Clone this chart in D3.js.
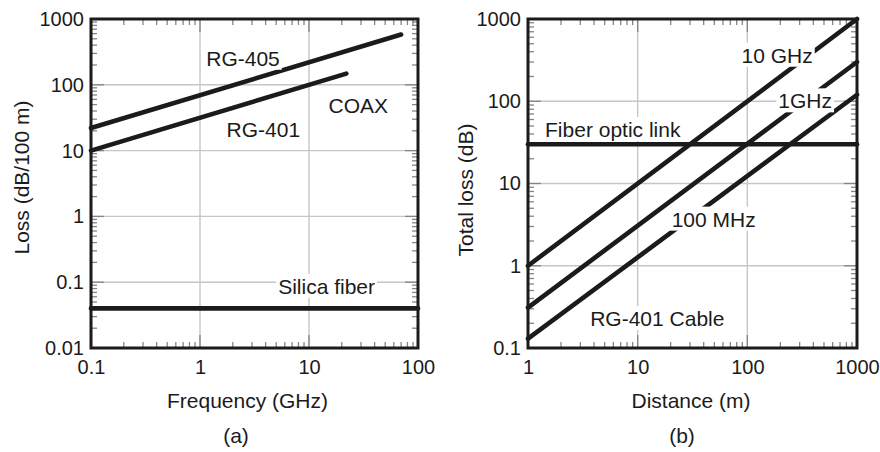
<!DOCTYPE html>
<html><head><meta charset="utf-8">
<script src="https://cdn.jsdelivr.net/npm/d3@7"></script>
<style>
body{margin:0;background:#fff}
svg{display:block;font-family:"Liberation Sans",Arial,Helvetica,sans-serif}
</style></head><body>
<svg id="chart" width="880" height="452"></svg>
<script>
// Panel (a): attenuation per 100 m versus frequency
const freqTicks = [0.1, 1, 10, 100];
const freqTickLabels = ["0.1", "1", "10", "100"];
const lossTicks = [0.01, 0.1, 1, 10, 100, 1000];
const lossTickLabels = ["0.01", "0.1", "1", "10", "100", "1000"];
const rg405Freq = [0.1, 70];
const rg405Loss = [22, 580];
const rg401Freq = [0.1, 22];
const rg401Loss = [10, 148];
const silicaFreq = [0.1, 100];
const silicaLoss = [0.04, 0.04];

// Panel (b): total loss versus link distance
const distTicks = [1, 10, 100, 1000];
const distTickLabels = ["1", "10", "100", "1000"];
const totalTicks = [0.1, 1, 10, 100, 1000];
const totalTickLabels = ["0.1", "1", "10", "100", "1000"];
const distance = [1, 1000];
const loss10GHz = [1, 1000];
const loss1GHz = [0.31, 300];
const loss100MHz = [0.13, 120];
const fiberDist = [1, 1000];
const fiberLoss = [30, 30];

const svg = d3.select("#chart");
const INK = "#1b1b1b";
const TICK_FONT = 20;
const FONT = 21;

function minorValues(domain) {
  const out = [];
  const lo = Math.floor(Math.log10(domain[0])), hi = Math.ceil(Math.log10(domain[1]));
  for (let e = lo; e < hi; e++) {
    for (let k = 2; k <= 9; k++) {
      const v = k * Math.pow(10, e);
      if (v > domain[0] && v < domain[1]) out.push(v);
    }
  }
  return out;
}

function drawPanel(cfg) {
  const x = d3.scaleLog().domain(cfg.xDomain).range(cfg.xRange);
  const y = d3.scaleLog().domain(cfg.yDomain).range(cfg.yRange);
  const [x0, x1] = cfg.xRange, [y0, y1] = [cfg.yRange[1], cfg.yRange[0]];
  const g = svg.append("g");

  // plot background
  g.append("rect").attr("x", x0).attr("y", y0).attr("width", x1 - x0).attr("height", y1 - y0).attr("fill", "#fff");

  // major grid lines
  const innerX = cfg.xTicks.filter(v => v > cfg.xDomain[0] && v < cfg.xDomain[1]);
  const innerY = cfg.yTicks.filter(v => v > cfg.yDomain[0] && v < cfg.yDomain[1]);
  g.append("g").selectAll("line").data(innerX).join("line")
    .attr("x1", d => x(d)).attr("x2", d => x(d)).attr("y1", y0).attr("y2", y1)
    .attr("stroke", "#c6c6c6").attr("stroke-width", 1.4);
  g.append("g").selectAll("line").data(innerY).join("line")
    .attr("y1", d => y(d)).attr("y2", d => y(d)).attr("x1", x0).attr("x2", x1)
    .attr("stroke", "#c6c6c6").attr("stroke-width", 1.4);

  // inward ticks on all four sides
  const tk = g.append("g").attr("stroke", "#858585").attr("stroke-width", 1.3);
  const mx = minorValues(cfg.xDomain), my = minorValues(cfg.yDomain);
  const addX = (vals, len) => vals.forEach(v => {
    tk.append("line").attr("x1", x(v)).attr("x2", x(v)).attr("y1", y1).attr("y2", y1 - len);
    tk.append("line").attr("x1", x(v)).attr("x2", x(v)).attr("y1", y0).attr("y2", y0 + len);
  });
  const addY = (vals, len) => vals.forEach(v => {
    tk.append("line").attr("y1", y(v)).attr("y2", y(v)).attr("x1", x0).attr("x2", x0 + len);
    tk.append("line").attr("y1", y(v)).attr("y2", y(v)).attr("x1", x1).attr("x2", x1 - len);
  });
  addX(mx, 6); addY(my, 6);
  addX(innerX, 13); addY(innerY, 13);

  // data lines
  const line = d3.line().x(d => x(d[0])).y(d => y(d[1]));
  cfg.series.forEach(s => {
    g.append("path").datum(d3.zip(s.x, s.y)).attr("d", line)
      .attr("fill", "none").attr("stroke", INK).attr("stroke-width", 4.6)
      .attr("stroke-linecap", "round");
  });

  // annotations with white boxes behind them
  cfg.notes.forEach(n => {
    const lg = g.append("g");
    const t = lg.append("text").attr("x", x(n.at[0])).attr("y", y(n.at[1]))
      .attr("text-anchor", n.anchor || "middle").attr("font-size", FONT).attr("fill", INK).text(n.text);
    const b = t.node().getBBox();
    lg.insert("rect", "text").attr("x", b.x - 2).attr("y", b.y - 1)
      .attr("width", b.width + 4).attr("height", b.height + 1).attr("fill", "#fff");
  });

  // frame
  g.append("rect").attr("x", x0).attr("y", y0).attr("width", x1 - x0).attr("height", y1 - y0)
    .attr("fill", "none").attr("stroke", INK).attr("stroke-width", 3);

  // tick labels through d3 axes
  const ax = g.append("g").attr("transform", `translate(0,${y1})`)
    .call(d3.axisBottom(x).tickValues(cfg.xTicks).tickFormat((d, i) => cfg.xLabels[i]).tickSize(0).tickPadding(12));
  const ay = g.append("g").attr("transform", `translate(${x0},0)`)
    .call(d3.axisLeft(y).tickValues(cfg.yTicks).tickFormat((d, i) => cfg.yLabels[i]).tickSize(0).tickPadding(7));
  [ax, ay].forEach(a => {
    a.select(".domain").remove();
    a.selectAll("text").attr("font-size", TICK_FONT).attr("fill", INK);
    a.attr("font-family", null).attr("font-size", null);
  });

  // axis titles and panel tag
  g.append("text").attr("x", cfg.xTitlePos[0]).attr("y", cfg.xTitlePos[1]).attr("text-anchor", "middle")
    .attr("font-size", FONT).attr("fill", INK).text(cfg.xTitle);
  g.append("text").attr("transform", `translate(${cfg.yTitlePos[0]},${cfg.yTitlePos[1]}) rotate(-90)`)
    .attr("text-anchor", "middle").attr("font-size", FONT).attr("fill", INK).text(cfg.yTitle);
  g.append("text").attr("x", cfg.tagPos[0]).attr("y", cfg.tagPos[1]).attr("text-anchor", "middle")
    .attr("font-size", FONT).attr("fill", INK).text(cfg.tag);
}

drawPanel({
  xDomain: [0.1, 100], xRange: [91, 418],
  yDomain: [0.01, 1000], yRange: [348, 19],
  xTicks: freqTicks, xLabels: freqTickLabels,
  yTicks: lossTicks, yLabels: lossTickLabels,
  series: [
    { x: rg405Freq, y: rg405Loss },
    { x: rg401Freq, y: rg401Loss },
    { x: silicaFreq, y: silicaLoss }
  ],
  notes: [
    { text: "RG-405", at: [2.48, 195] },
    { text: "RG-401", at: [3.81, 15.9] },
    { text: "COAX", at: [28.3, 37.7] },
    { text: "Silica fiber", at: [14.5, 0.066] }
  ],
  xTitle: "Frequency (GHz)", xTitlePos: [247.5, 408],
  yTitle: "Loss (dB/100 m)", yTitlePos: [29, 177.5],
  tag: "(a)", tagPos: [236, 443]
});

drawPanel({
  xDomain: [1, 1000], xRange: [528, 857],
  yDomain: [0.1, 1000], yRange: [348, 19],
  xTicks: distTicks, xLabels: distTickLabels,
  yTicks: totalTicks, yLabels: totalTickLabels,
  series: [
    { x: distance, y: loss10GHz },
    { x: distance, y: loss1GHz },
    { x: distance, y: loss100MHz },
    { x: fiberDist, y: fiberLoss }
  ],
  notes: [
    { text: "10 GHz", at: [187, 294] },
    { text: "1GHz", at: [337, 82] },
    { text: "100 MHz", at: [49.3, 2.99] },
    { text: "Fiber optic link", at: [1.43, 36.7], anchor: "start" },
    { text: "RG-401 Cable", at: [15.1, 0.185] }
  ],
  xTitle: "Distance (m)", xTitlePos: [691, 408],
  yTitle: "Total loss (dB)", yTitlePos: [472.5, 190],
  tag: "(b)", tagPos: [682, 443]
});
</script>
</body></html>
